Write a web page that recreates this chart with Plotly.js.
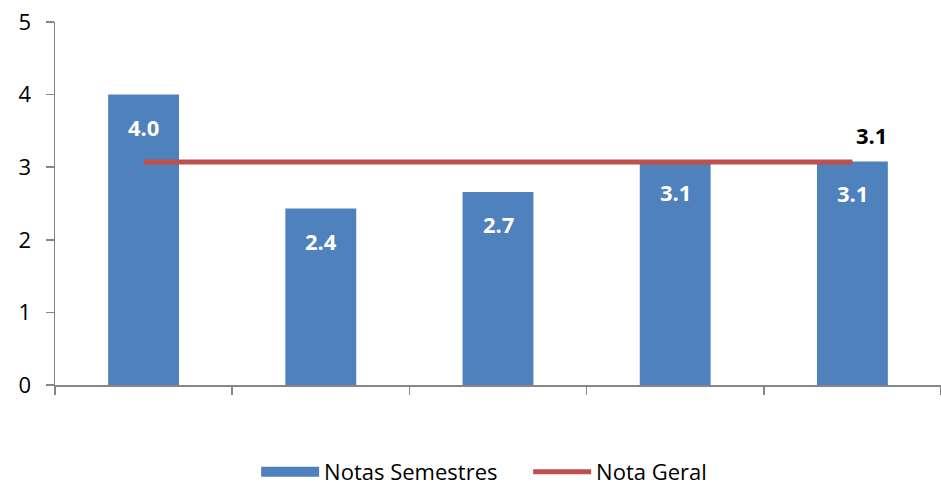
<!DOCTYPE html>
<html>
<head>
<meta charset="utf-8">
<script src="https://cdn.plot.ly/plotly-3.0.1.min.js"></script>
<style>html,body{margin:0;padding:0;background:#fff;}#chart{width:941px;height:486px;}</style>
</head>
<body>
<div id="chart"></div>
<script>
const categories = ['1º', '2º', '3º', '4º', '5º'];
const notasSemestres = [4.0, 2.43, 2.66, 3.1, 3.08];
const notaGeral = [3.07, 3.07, 3.07, 3.07, 3.07];
const barLabels = ['4.0', '2.4', '2.7', '3.1', '3.1'];
const geralLabel = '3.1';

const FONT = '"Open Sans", sans-serif';
const BLUE = '#4F81BD';
const RED = '#C0504D';

const bars = {
  type: 'bar',
  name: 'Notas Semestres',
  x: categories,
  y: notasSemestres,
  marker: {color: BLUE, line: {width: 0}},
  showlegend: false,
  legendgroup: 'sem',
  hoverinfo: 'skip'
};
// legend proxy so the legend key is a wide rectangle like the original
const barKey = {
  type: 'scatter', mode: 'lines', name: 'Notas Semestres',
  x: [null], y: [null], legendgroup: 'sem',
  line: {color: BLUE, width: 14}, hoverinfo: 'skip'
};
const line = {
  type: 'scatter',
  mode: 'lines',
  name: 'Nota Geral',
  x: categories,
  y: notaGeral,
  line: {color: RED, width: 5},
  hoverinfo: 'skip'
};

const annotations = categories.map((c, i) => ({
  x: c, y: notasSemestres[i], xref: 'x', yref: 'y',
  text: '<b>' + barLabels[i] + '</b>', showarrow: false,
  yshift: -32, font: {family: FONT, size: 22, color: '#ffffff'}
}));
annotations.push({
  x: categories[categories.length - 1], y: notaGeral[notaGeral.length - 1],
  xref: 'x', yref: 'y', text: '<b>' + geralLabel + '</b>', showarrow: false,
  xshift: 19, yshift: 27, font: {family: FONT, size: 22, color: '#000000'}
});

const layout = {
  width: 941, height: 486,
  margin: {l: 55, r: 0, t: 22, b: 101, autoexpand: false},
  paper_bgcolor: '#ffffff', plot_bgcolor: '#ffffff',
  font: {family: FONT, size: 20, color: '#000000'},
  bargap: 0.6,
  showlegend: true,
  legend: {
    orientation: 'h', x: 0.534, xanchor: 'center',
    yref: 'container', y: 0.029, yanchor: 'middle',
    font: {family: FONT, size: 22, color: '#000000'}, itemwidth: 58,
    entrywidth: 199,
    traceorder: 'normal'
  },
  xaxis: {
    type: 'category', showticklabels: false, showgrid: false, zeroline: false,
    showline: true, linecolor: '#868686', linewidth: 1.5,
    ticks: 'outside', ticklen: 8, tickcolor: '#868686', tickwidth: 1.5,
    tickson: 'boundaries', fixedrange: true, automargin: false
  },
  yaxis: {
    range: [0, 5], dtick: 1, showgrid: false, zeroline: false,
    showline: true, linecolor: '#868686', linewidth: 1.5,
    ticks: 'outside', ticklen: 8, tickcolor: '#868686', tickwidth: 1.5,
    tickfont: {family: FONT, size: 22, color: '#000000'}, ticklabelstandoff: 10,
    fixedrange: true, automargin: false
  },
  annotations: annotations
};

Plotly.newPlot('chart', [bars, barKey, line], layout, {displayModeBar: false, staticPlot: true});
</script>
</body>
</html>
